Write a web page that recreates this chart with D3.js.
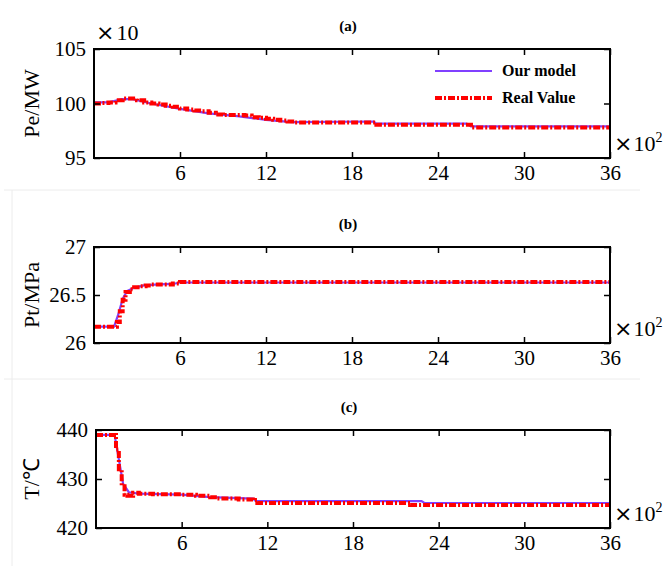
<!DOCTYPE html>
<html>
<head>
<meta charset="utf-8">
<script src="https://cdn.jsdelivr.net/npm/d3@7"></script>
<style>
  body { margin: 0; background: #fff; }
  svg { display: block; }
</style>
</head>
<body>
<div id="root"></div>
<script>
const xTicks = [6, 12, 18, 24, 30, 36]

// (a) Pe/MW (x10)
const timeA  = [0, 0.5, 1, 1.5, 2, 2.5, 3, 3.5, 4, 4.5, 5, 5.5, 6, 6.5, 7, 7.5, 8, 8.5, 9, 10, 10.5, 11, 11.5, 12, 12.5, 13, 13.5, 14, 19.5, 19.7, 26, 26.3, 36]
const realA  = [100.0, 100.05, 100.1, 100.3, 100.45, 100.45, 100.3, 100.1, 100.0, 99.9, 99.8, 99.7, 99.55, 99.45, 99.35, 99.3, 99.15, 99.0, 98.95, 98.95, 98.9, 98.75, 98.7, 98.6, 98.5, 98.45, 98.35, 98.25, 98.25, 98.05, 98.05, 97.8, 97.8]
const modelTimeA = [0, 1, 2, 2.7, 4, 6, 8, 10, 12, 13.8, 19.5, 19.7, 26, 26.3, 36]
const modelA = [100.1, 100.1, 100.4, 100.4, 100.0, 99.5, 99.1, 98.85, 98.5, 98.3, 98.35, 98.15, 98.15, 97.9, 97.9]
const yTicksA = [95, 100, 105]

// (b) Pt/MPa
const timeB  = [0, 1.4, 1.6, 1.8, 2.0, 2.2, 2.5, 2.8, 3.2, 3.6, 4.0, 5.0, 5.5, 6.0, 36]
const realB  = [26.17, 26.17, 26.22, 26.33, 26.45, 26.53, 26.56, 26.58, 26.59, 26.6, 26.61, 26.61, 26.62, 26.635, 26.635]
const modelTimeB = [0, 1.4, 1.7, 2.0, 2.3, 2.8, 3.5, 4.5, 5.5, 6.0, 36]
const modelB = [26.17, 26.17, 26.3, 26.46, 26.54, 26.575, 26.6, 26.61, 26.615, 26.63, 26.63]
const yTicksB = [26, 26.5, 27]

// (c) T/°C
const timeC  = [0, 1.2, 1.4, 1.6, 1.8, 2.0, 2.2, 2.6, 3.0, 4.0, 6.0, 7.0, 8.0, 8.5, 10.0, 11.0, 11.3, 21.5, 22.0, 36]
const realC  = [439, 439, 436, 432, 428.5, 426.8, 426.6, 427.2, 427.0, 426.9, 426.8, 426.6, 426.3, 426.0, 425.8, 425.7, 425.1, 425.1, 424.7, 424.7]
const modelTimeC = [0, 1.3, 1.6, 1.9, 2.3, 3.0, 6.0, 8.0, 11.0, 11.2, 22.8, 23.0, 36]
const modelC = [439, 439, 434, 429, 427.3, 427.0, 426.8, 426.3, 426.0, 425.5, 425.5, 425.1, 425.1]
const yTicksC = [420, 430, 440]

const panels = [
  { tag: '(a)', title: 'Pe/MW', top: 49, bottom: 158, left: 94,
    time: timeA, real: realA, mtime: modelTimeA, model: modelA, yTicks: yTicksA,
    legend: true, topMult: true },
  { tag: '(b)', title: 'Pt/MPa', top: 247, bottom: 343, left: 94,
    time: timeB, real: realB, mtime: modelTimeB, model: modelB, yTicks: yTicksB },
  { tag: '(c)', title: 'T/℃', top: 430, bottom: 528, left: 96,
    time: timeC, real: realC, mtime: modelTimeC, model: modelC, yTicks: yTicksC }
]

const W = 670, H = 570, right = 610
const svg = d3.select('#root').append('svg').attr('width', W).attr('height', H)
const serif = 'Liberation Serif, Times New Roman, serif'

// faint panel separators
svg.append('line').attr('x1', 4).attr('x2', 640).attr('y1', 190).attr('y2', 190).attr('stroke', '#ececec')
svg.append('line').attr('x1', 4).attr('x2', 640).attr('y1', 379).attr('y2', 379).attr('stroke', '#ececec')
svg.append('line').attr('x1', 12).attr('x2', 12).attr('y1', 190).attr('y2', 566).attr('stroke', '#ececec')

panels.forEach(p => {
  const x = d3.scaleLinear().domain([0, 36]).range([p.left, right])
  const y = d3.scaleLinear().domain([p.yTicks[0], p.yTicks[2]]).range([p.bottom, p.top])
  const g = svg.append('g')

  // model line
  const lineM = d3.line().x((d, i) => x(p.mtime[i])).y(d => y(d))
  g.append('path').datum(p.model).attr('d', lineM)
    .attr('fill', 'none').attr('stroke', '#8040ff').attr('stroke-width', 2.2)

  // real value line (dash-dot, steps)
  const lineR = d3.line().x((d, i) => x(p.time[i])).y(d => y(d)).curve(d3.curveStepAfter)
  g.append('path').datum(p.real).attr('d', lineR)
    .attr('fill', 'none').attr('stroke', '#ff0000').attr('stroke-width', 4)
    .attr('stroke-dasharray', '7,2,2,2')

  // box
  g.append('rect').attr('x', p.left).attr('y', p.top)
    .attr('width', right - p.left).attr('height', p.bottom - p.top)
    .attr('fill', 'none').attr('stroke', '#000').attr('stroke-width', 2)

  // axes: ticks inward on all sides
  const ba = g.append('g').attr('transform', `translate(0,${p.bottom})`)
    .call(d3.axisBottom(x).tickValues(xTicks).tickSize(-6).tickPadding(7))
  g.append('g').attr('transform', `translate(0,${p.top})`)
    .call(d3.axisTop(x).tickValues(xTicks).tickSize(-6).tickFormat(''))
  const la = g.append('g').attr('transform', `translate(${p.left},0)`)
    .call(d3.axisLeft(y).tickValues(p.yTicks).tickSize(-6).tickPadding(8).tickFormat(d => d))
  g.append('g').attr('transform', `translate(${right},0)`)
    .call(d3.axisRight(y).tickValues(p.yTicks).tickSize(-6).tickFormat(''))
  g.selectAll('.domain').remove()
  g.selectAll('.tick line').attr('stroke', '#000').attr('stroke-width', 1.5)
  ba.selectAll('text').attr('font-family', serif).attr('font-size', 21).attr('fill', '#000')
  la.selectAll('text').attr('font-family', serif).attr('font-size', 21).attr('fill', '#000')

  // panel tag
  g.append('text').attr('x', (p.left + right) / 2 - 4).attr('y', p.top - 18)
    .attr('text-anchor', 'middle').attr('font-family', serif).attr('font-weight', 'bold')
    .attr('font-size', 15).text(p.tag)

  // y title
  g.append('text').attr('transform', `translate(39,${(p.top + p.bottom) / 2}) rotate(-90)`)
    .attr('text-anchor', 'middle').attr('font-family', serif).attr('font-size', 22)
    .text(p.title)

  // x multiplier
  const xm = g.append('text').attr('x', 614).attr('y', p.bottom - 7)
    .attr('font-family', serif).attr('font-size', 22)
  xm.append('tspan').attr('font-family', 'DejaVu Sans').attr('font-weight', 'normal')
    .attr('font-size', 22).text('×')
  xm.append('tspan').attr('dx', 1).text('10')
  xm.append('tspan').attr('dy', -9).attr('font-size', 14).text('2')

  if (p.topMult) {
    const tm = g.append('text').attr('x', 96).attr('y', p.top - 9)
      .attr('font-family', serif).attr('font-size', 22)
    tm.append('tspan').attr('font-family', 'DejaVu Sans').text('×')
    tm.append('tspan').attr('dx', 2).text('10')
  }

  if (p.legend) {
    const items = [
      { name: 'Our model', color: '#8040ff', w: 2.2, dash: null },
      { name: 'Real Value', color: '#ff0000', w: 4, dash: '7,2,2,2' }
    ]
    items.forEach((it, i) => {
      const ly = p.top + 22 + i * 27
      g.append('line').attr('x1', 435).attr('x2', 492).attr('y1', ly).attr('y2', ly)
        .attr('stroke', it.color).attr('stroke-width', it.w).attr('stroke-dasharray', it.dash)
      g.append('text').attr('x', 502).attr('y', ly + 5)
        .attr('font-family', serif).attr('font-weight', 'bold').attr('font-size', 16)
        .text(it.name)
    })
  }
})
</script>
</body>
</html>
